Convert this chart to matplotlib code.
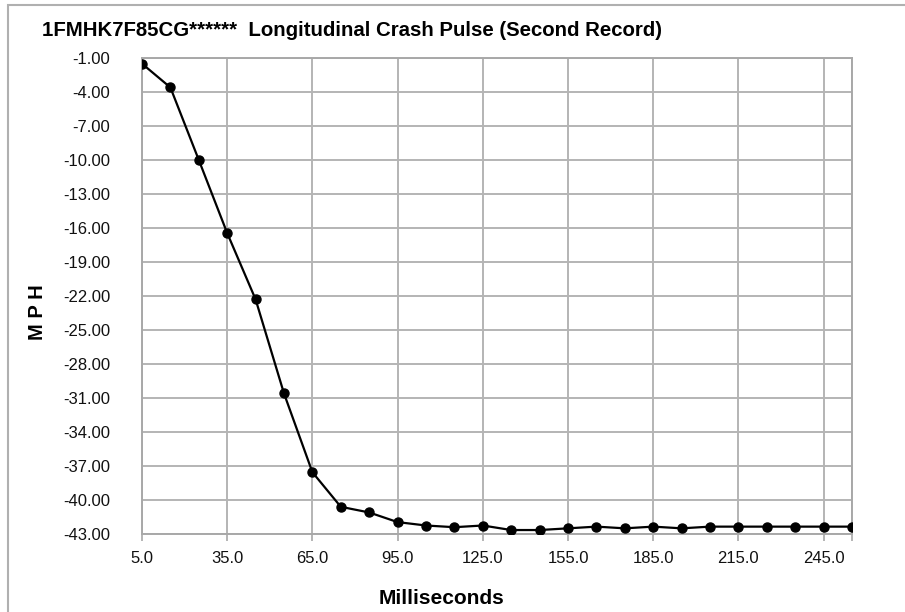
import matplotlib.pyplot as plt
from matplotlib.patches import Rectangle

plt.rcParams['font.family'] = ['Liberation Sans', 'DejaVu Sans']

# crash pulse data
ms = [5, 15, 25, 35, 45, 55, 65, 75, 85, 95, 105, 115, 125, 135, 145,
      155, 165, 175, 185, 195, 205, 215, 225, 235, 245, 255]
mph = [-1.50, -3.60, -10.00, -16.45, -22.30, -30.60, -37.55, -40.60, -41.10,
       -41.95, -42.25, -42.40, -42.25, -42.65, -42.65, -42.50, -42.35, -42.50,
       -42.35, -42.50, -42.35, -42.35, -42.35, -42.35, -42.35, -42.35]

x_ticks = [5, 35, 65, 95, 125, 155, 185, 215, 245, 255]
y_ticks = list(range(-1, -44, -3))

fig = plt.figure(figsize=(9.05, 6.12), dpi=100)
ax = fig.add_axes([142 / 905, 1 - 534 / 612, 710 / 905, 476 / 612])

ax.plot(ms, mph, color='black', linewidth=1.6, marker='o', markersize=6.5, zorder=3)

ax.set_xlim(5, 255)
ax.set_ylim(-43, -1)
ax.set_xticks(x_ticks)
ax.set_xticklabels([f'{t:.1f}' for t in x_ticks[:-1]] + [''])
ax.set_yticks(y_ticks)
ax.set_yticklabels([f'{t:.2f}' for t in y_ticks])

ax.grid(True, color='#b4b4b4', linewidth=1.4)
ax.set_axisbelow(True)
for s in ax.spines.values():
    s.set_color('#a8a8a8')
    s.set_linewidth(1.4)

ax.tick_params(axis='x', length=5, width=1.2, color='#a8a8a8', pad=7, labelsize=12,
               labelcolor='#111111')
ax.tick_params(axis='y', length=0, pad=23, labelsize=12, labelcolor='#111111')

fig.text(42 / 905, 1 - 30 / 612, '1FMHK7F85CG******  Longitudinal Crash Pulse (Second Record)',
         fontsize=14.7, fontweight='bold', ha='left', va='center')
fig.text(441 / 905, 1 - 599 / 612, 'Milliseconds', fontsize=15, fontweight='bold',
         ha='center', va='center')
fig.text(37 / 905, 1 - 312 / 612, 'M P H', fontsize=14.5, fontweight='bold',
         ha='center', va='center', rotation=90)

# outer chart frame (left and top edges visible)
fig.patches.append(Rectangle((8 / 905, -0.1), 1.2, 1.1 - 5 / 612, transform=fig.transFigure,
                             fill=False, edgecolor='#b0b0b0', linewidth=1.5))

fig.savefig('out.png', dpi=100)
